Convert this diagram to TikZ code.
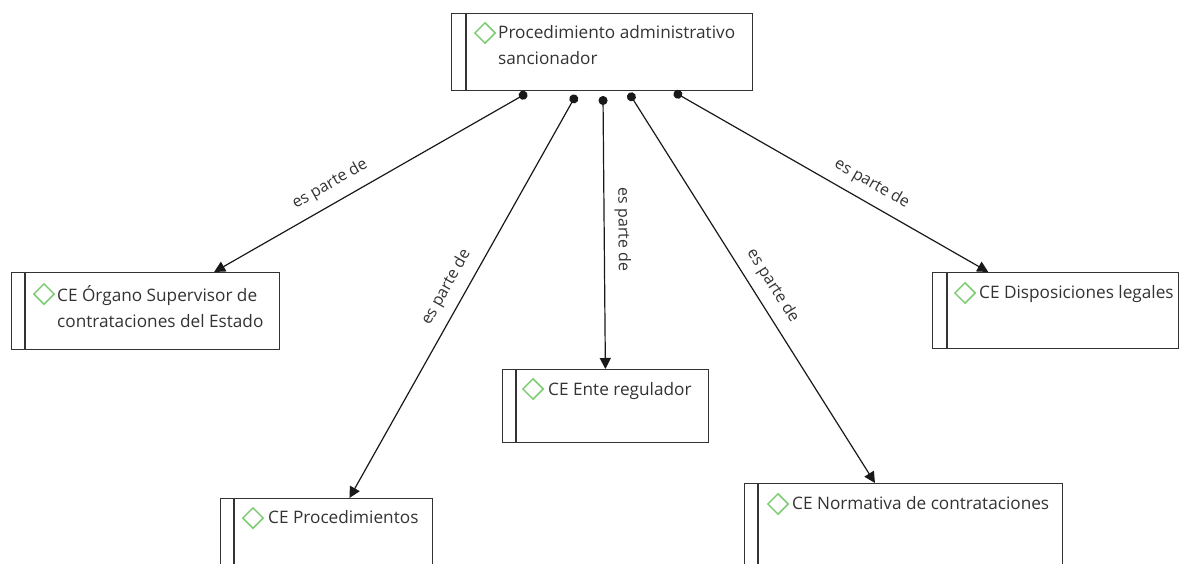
\documentclass[tikz,border=0pt]{standalone}
\usepackage{fontspec}
\setmainfont{Open Sans}
\usepackage{tikz}
\usetikzlibrary{shapes.geometric,arrows.meta}
\definecolor{borde}{HTML}{333333}
\definecolor{letra}{HTML}{333333}
\definecolor{verde}{HTML}{7DCB73}
\begin{document}
\begin{tikzpicture}[x=1pt,y=-1pt]
						\tikzstyle{clase}=[rectangle,draw=borde,line width=1.4pt,anchor=north west,inner sep=0pt]
						\tikzstyle{rombo}=[diamond,draw=verde,line width=1.5pt,minimum size=21pt,inner sep=0pt]
						\tikzstyle{texto}=[anchor=north west,inner sep=0pt,align=left,text=letra,font=\fontsize{17.2}{26}\selectfont]
						\tikzstyle{rel}=[draw=black!90,line width=1.2pt,{Circle[length=9pt]}-{Triangle[length=11pt,width=11pt]}]
						\tikzstyle{etq}=[sloped,above,inner sep=10pt,text=letra,font=\fontsize{16}{18}\selectfont]
						\useasboundingbox (0,0) rectangle (1180,564);
						% cajas
						\node[clase,minimum width=301pt,minimum height=77pt](tp) at (451,13) {};
						\node[clase,minimum width=268pt,minimum height=77pt](org) at (11,272) {};
						\node[clase,minimum width=246pt,minimum height=76pt](disp) at (932,272) {};
						\node[clase,minimum width=206pt,minimum height=73pt](ente) at (502,369) {};
						\node[clase,minimum width=212pt,minimum height=80pt](proc) at (220,498) {};
						\node[clase,minimum width=318pt,minimum height=90pt](norm) at (744,483) {};
						\draw[borde,line width=1.4pt](466,13) -- (466,90);
						\draw[borde,line width=1.4pt](25,272) -- (25,349);
						\draw[borde,line width=1.4pt](947,272) -- (947,348);
						\draw[borde,line width=1.4pt](516,369) -- (516,442);
						\draw[borde,line width=1.4pt](234,498) -- (234,578);
						\draw[borde,line width=1.4pt](758,483) -- (758,573);
						% rombos y textos
						\node[rombo](rtp) at (485,33) {};
						\node[texto](ttp) at (498,25) {Procedimiento administrativo\\sancionador};
						\node[rombo](rorg) at (44,294) {};
						\node[texto](torg) at (57,285) {CE Órgano Supervisor de\\contrataciones del Estado};
						\node[rombo](rdisp) at (965,293) {};
						\node[texto](tdisp) at (979,285) {CE Disposiciones legales};
						\node[rombo](rente) at (533,389) {};
						\node[texto](tente) at (548,382) {CE Ente regulador};
						\node[rombo](rproc) at (253,518) {};
						\node[texto](tproc) at (268,510) {CE Procedimientos};
						\node[rombo](rnorm) at (778,504) {};
						\node[texto](tnorm) at (792,496) {CE Normativa de contrataciones};
						% relaciones
						\coordinate (d1) at (527,93);
						\coordinate (d2) at (576,95);
						\coordinate (d3) at (603,96);
						\coordinate (d4) at (629,93);
						\coordinate (d5) at (674,92);
						\draw[rel](d1) -- node[etq,pos=0.6]{es parte de}(org);
						\draw[rel](d2) -- node[etq,pos=0.5]{es parte de}(proc);
						\draw[rel](d3) -- node[etq,pos=0.49]{es parte de}(ente);
						\draw[rel](d4) -- node[etq,pos=0.52]{es parte de}(norm);
						\draw[rel](d5) -- node[etq,pos=0.6]{es parte de}(disp);
					\end{tikzpicture}
\end{document}
